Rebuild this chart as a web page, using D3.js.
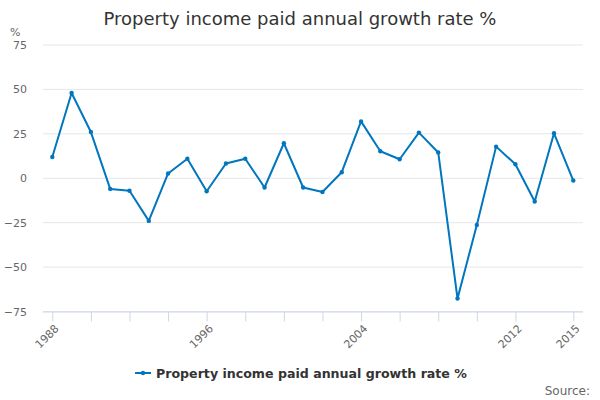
<!DOCTYPE html>
<html>
<head>
<meta charset="utf-8">
<script src="https://cdn.jsdelivr.net/npm/d3@7"></script>
<style>
body { margin: 0; background: #fff; }
svg { font-family: "DejaVu Sans", sans-serif; }
</style>
</head>
<body>
<div id="chart"></div>
<script>
var years = d3.range(1988, 2016);
var growth = [12, 48, 26, -6, -7, -24, 2.7, 11, -7.3, 8.3, 11, -5.2, 19.7, -5.2, -7.7, 3.4,
              32, 15.2, 10.7, 25.7, 14.5, -67.7, -26.3, 17.8, 7.9, -13.1, 25.3, -1.3];
var yTicks = [-75, -50, -25, 0, 25, 50, 75];
var xTicks = [1988, 1990, 1992, 1994, 1996, 1998, 2000, 2002, 2004, 2006, 2008, 2010, 2012, 2015];
var xLabels = [1988, 1996, 2004, 2012, 2015];
var seriesName = "Property income paid annual growth rate %";

var W = 600, H = 400;
var margin = {top: 45, right: 17, bottom: 88.5, left: 43};
var width = W - margin.left - margin.right;
var height = H - margin.top - margin.bottom;
var blue = "#0076bf";
var fontFam = "'DejaVu Sans', sans-serif";

var svg = d3.select("#chart").append("svg")
    .attr("width", W).attr("height", H);

svg.append("text")
    .attr("x", W / 2).attr("y", 25)
    .attr("text-anchor", "middle")
    .style("font-size", "18px")
    .style("fill", "#333")
    .text("Property income paid annual growth rate %");

var g = svg.append("g")
    .attr("transform", "translate(" + margin.left + "," + margin.top + ")");

var x = d3.scaleLinear().domain([1988, 2015]).range([9.3, 530.3]);
var y = d3.scaleLinear().domain([-75, 75]).range([height, 0]);

// gridlines
g.selectAll(".grid").data(yTicks).enter().append("line")
    .attr("x1", 0).attr("x2", width)
    .attr("y1", function(d) { return y(d); })
    .attr("y2", function(d) { return y(d); })
    .attr("stroke", "#e6e6e6").attr("stroke-width", 1);

// y labels
var yAxis = d3.axisLeft(y).tickValues(yTicks).tickSize(0).tickPadding(16);
var ya = g.append("g").call(yAxis);
ya.select(".domain").remove();
ya.selectAll("text").style("font-size", "11px").style("fill", "#666")
    .style("font-family", fontFam);

svg.append("text")
    .attr("x", 10).attr("y", 36)
    .style("font-size", "11px").style("fill", "#666")
    .text("%");

// x axis
var xAxis = d3.axisBottom(x).tickValues(xTicks).tickSize(10)
    .tickFormat(function(d) { return xLabels.indexOf(d) >= 0 ? d : ""; });
var xa = g.append("g")
    .attr("transform", "translate(0," + height + ")")
    .call(xAxis);
xa.select(".domain").attr("d", "M0,0.5H" + width).attr("stroke", "#ccd6eb");
xa.selectAll(".tick line").attr("stroke", "#ccd6eb");
xa.selectAll("text")
    .style("font-size", "11px").style("fill", "#666")
    .style("font-family", fontFam)
    .attr("text-anchor", "end")
    .attr("dy", "0.35em")
    .attr("transform", "translate(4,15) rotate(-45)")
    .attr("x", 0).attr("y", 0);

// line
var line = d3.line()
    .x(function(d, i) { return x(years[i]); })
    .y(function(d) { return y(d); });

g.append("path").datum(growth)
    .attr("d", line)
    .attr("fill", "none")
    .attr("stroke", blue)
    .attr("stroke-width", 2)
    .attr("stroke-linejoin", "round");

g.selectAll(".pt").data(growth).enter().append("circle")
    .attr("cx", function(d, i) { return x(years[i]); })
    .attr("cy", function(d) { return y(d); })
    .attr("r", 2.2)
    .attr("fill", blue);

// legend
var lg = svg.append("g").attr("transform", "translate(135,373)");
lg.append("line").attr("x1", 0).attr("x2", 16).attr("y1", 0).attr("y2", 0)
    .attr("stroke", blue).attr("stroke-width", 2);
lg.append("circle").attr("cx", 8).attr("cy", 0).attr("r", 2.2).attr("fill", blue);
lg.append("text").attr("x", 21).attr("y", 5)
    .style("font-size", "12.6px").style("font-weight", "bold").style("fill", "#333")
    .text(seriesName);

svg.append("text")
    .attr("x", 590).attr("y", 395)
    .attr("text-anchor", "end")
    .style("font-size", "12px").style("fill", "#666")
    .text("Source:");
</script>
</body>
</html>
